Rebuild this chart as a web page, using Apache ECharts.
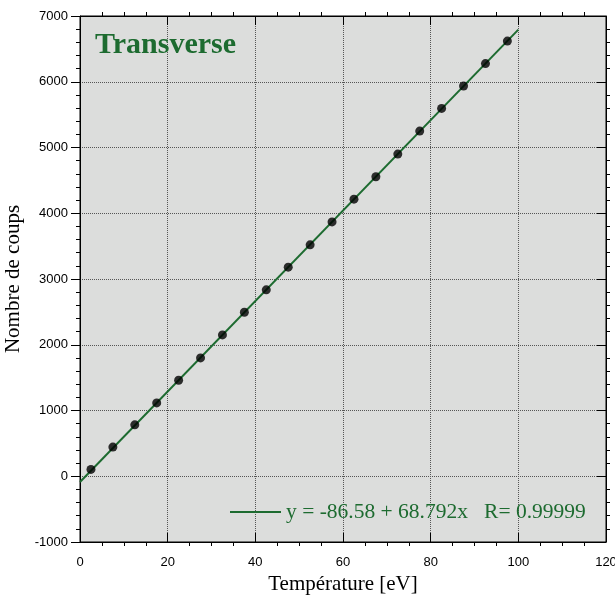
<!DOCTYPE html>
<html>
<head>
<meta charset="utf-8">
<script src="https://cdn.jsdelivr.net/npm/echarts@6/dist/echarts.min.js"></script>
<style>
html,body{margin:0;padding:0;background:#fff;}
#chart{width:615px;height:599px;}
</style>
</head>
<body>
<div id="chart"></div>
<script>
// Data
const temperature = [2.5, 7.5, 12.5, 17.5, 22.5, 27.5, 32.5, 37.5, 42.5, 47.5, 52.5, 57.5, 62.5, 67.5, 72.5, 77.5, 82.5, 87.5, 92.5, 97.5];
const counts = [104, 444, 782, 1115, 1460, 1800, 2150, 2495, 2835, 3180, 3520, 3868, 4214, 4555, 4900, 5250, 5595, 5936, 6276, 6618];
const fitX = [0, 100];
const fitY = [-86.58, 6792.62];
const fitLabel = 'y = -86.58 + 68.792x   R= 0.99999';
const titleText = 'Transverse';
const xName = 'Température [eV]';
const yName = 'Nombre de coups';
const xMinorTicks = [5, 10, 15, 25, 30, 35, 45, 50, 55, 65, 70, 75, 85, 90, 95, 105, 110, 115];
const yMinorTicks = [-800, -600, -400, -200, 200, 400, 600, 800, 1200, 1400, 1600, 1800, 2200, 2400, 2600, 2800, 3200, 3400, 3600, 3800, 4200, 4400, 4600, 4800, 5200, 5400, 5600, 5800, 6200, 6400, 6600, 6800];

const green = '#1d6b30';
const serif = '"Liberation Serif", "Times New Roman", serif';
const sans = '"Liberation Sans", Arial, sans-serif';

const xRange = {min: 0, max: 120};
const yRange = {min: -1000, max: 7000};
const plain = v => String(v);

function majorX(position, inside, showLabel) {
  return Object.assign({
    type: 'value', position: position, interval: 20,
    axisLine: {show: true, onZero: false, lineStyle: {color: '#000', width: 1}},
    axisTick: {show: true, inside: inside, length: 9, lineStyle: {color: '#000'}},
    axisLabel: {show: showLabel, color: '#000', fontFamily: sans, fontSize: 13, margin: 14, formatter: plain},
    splitLine: {show: false}
  }, xRange);
}
function minorX(position) {
  return Object.assign({
    type: 'value', position: position,
    axisLine: {show: false, onZero: false},
    axisTick: {show: true, inside: false, length: 4, customValues: xMinorTicks, lineStyle: {color: '#000'}},
    axisLabel: {show: false},
    splitLine: {show: false}
  }, xRange);
}
function majorY(position, inside, showLabel) {
  return Object.assign({
    type: 'value', position: position, interval: 1000,
    axisLine: {show: true, onZero: false, lineStyle: {color: '#000', width: 1}},
    axisTick: {show: true, inside: inside, length: 9, lineStyle: {color: '#000'}},
    axisLabel: {show: showLabel, color: '#000', fontFamily: sans, fontSize: 13, margin: 12, formatter: plain},
    splitLine: {show: false}
  }, yRange);
}
function minorY(position) {
  return Object.assign({
    type: 'value', position: position,
    axisLine: {show: false, onZero: false},
    axisTick: {show: true, inside: false, length: 4, customValues: yMinorTicks, lineStyle: {color: '#000'}},
    axisLabel: {show: false},
    splitLine: {show: false}
  }, yRange);
}

const xMain = majorX('bottom', true, true);
xMain.splitLine = {show: true, lineStyle: {color: '#555', width: 1, type: [1, 1]}};
xMain.name = xName;
xMain.nameLocation = 'middle';
xMain.nameGap = 31;
xMain.nameTextStyle = {fontFamily: serif, fontSize: 21, color: '#000'};

const yMain = majorY('left', false, true);
yMain.splitLine = {show: true, lineStyle: {color: '#555', width: 1, type: [1, 1]}};
yMain.name = yName;
yMain.nameLocation = 'middle';
yMain.nameGap = 52;
yMain.nameTextStyle = {fontFamily: serif, fontSize: 21, color: '#000'};

const chart = echarts.init(document.getElementById('chart'), null, {renderer: 'canvas'});
chart.setOption({
  animation: false,
  backgroundColor: '#fff',
  title: {
    text: titleText, left: 95, top: 30, padding: 0,
    textStyle: {fontFamily: serif, fontWeight: 'bold', fontSize: 30, color: green}
  },
  legend: {
    data: [fitLabel], left: 230, top: 500, padding: 0,
    icon: 'rect', itemWidth: 51, itemHeight: 2,
    textStyle: {fontFamily: serif, fontSize: 21.5, color: green, lineHeight: 24}
  },
  grid: {
    left: 80, top: 16, right: 9, bottom: 57,
    outerBoundsMode: 'none', containLabel: false,
    show: true, backgroundColor: '#dcdddc', borderColor: '#000', borderWidth: 1
  },
  xAxis: [xMain, minorX('bottom'), majorX('top', true, false), minorX('top')],
  yAxis: [yMain, minorY('left'), majorY('right', true, false), minorY('right')],
  series: [
    {
      name: fitLabel, type: 'line', xAxisIndex: 0, yAxisIndex: 0,
      data: fitX.map((x, i) => [x, fitY[i]]),
      showSymbol: false, symbol: 'none',
      lineStyle: {color: green, width: 2}, itemStyle: {color: green}, z: 2
    },
    {
      name: 'data', type: 'scatter', xAxisIndex: 0, yAxisIndex: 0,
      data: temperature.map((x, i) => [x, counts[i]]),
      symbol: 'circle', symbolSize: 9,
      itemStyle: {color: '#000'}, z: 3
    }
  ]
});
</script>
</body>
</html>
